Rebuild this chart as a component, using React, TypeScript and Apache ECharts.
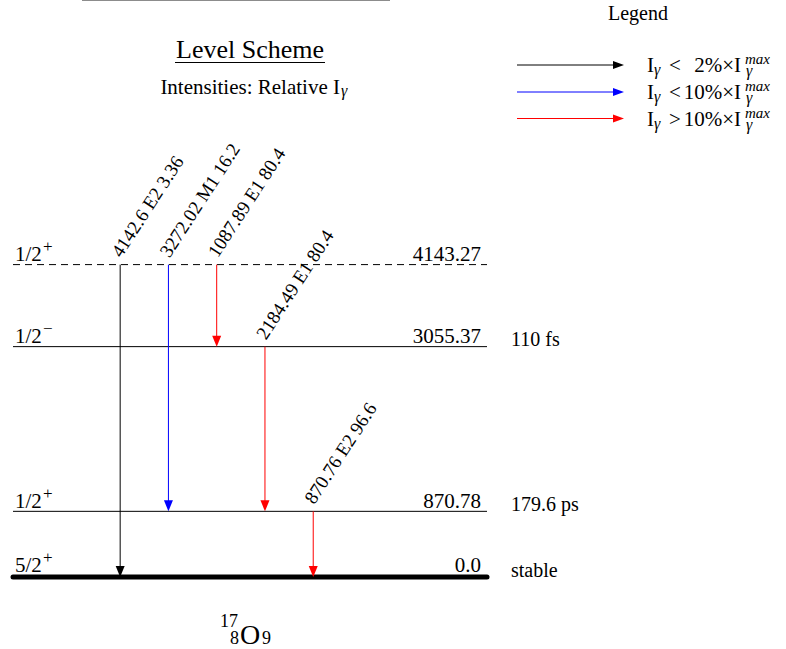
import React, { useEffect, useRef } from 'react';
import * as echarts from 'echarts';

// ---- Level data ----
const levelEnergies = [4143.27, 3055.37, 870.78, 0.0];
const levelLabels = ['4143.27', '3055.37', '870.78', '0.0'];
const levelSpins = ['1/2', '1/2', '1/2', '5/2'];
const levelParities = ['+', '\u2212', '+', '+'];
const levelHalfLives = ['', '110 fs', '179.6 ps', 'stable'];
const levelDashed = [true, false, false, false];

// ---- Gamma transitions ----
const gammaEnergies = ['4142.6', '3272.02', '1087.89', '2184.49', '870.76'];
const gammaMultipolarities = ['E2', 'M1', 'E1', 'E1', 'E2'];
const gammaIntensities = ['3.36', '16.2', '80.4', '80.4', '96.6'];
const gammaFrom = [4143.27, 4143.27, 4143.27, 3055.37, 870.78];
const gammaTo = [0.0, 870.78, 3055.37, 870.78, 0.0];
const gammaClass = [0, 1, 2, 2, 2];

// ---- Legend ----
const classColors = ['#000000', '#0000ff', '#ff0000'];
const legendRelations = ['<', '<', '>'];
const legendPercents = ['2%\u00d7I', '10%\u00d7I', '10%\u00d7I'];

const FONT = '"Liberation Serif", "Times New Roman", serif';
const X_MIN = -2.22;
const X_MAX = 7.6;
const ROT = (57 * Math.PI) / 180;

// text helper: place baseline at y
function txt(text: string, x: number, baseline: number, size: number, align: string = 'left', extra: any = {}) {
  return {
    type: 'text',
    x,
    y: baseline - 0.34 * size,
    silent: true,
    style: {
      text,
      fontSize: size,
      fontFamily: FONT,
      fill: '#000',
      align,
      verticalAlign: 'middle',
      ...extra,
    },
  };
}

export default function App() {
  const ref = useRef<HTMLDivElement>(null);

  useEffect(() => {
    if (!ref.current) return;
    const chart = echarts.init(ref.current, null, { renderer: 'svg' });

    const levelData = levelEnergies.map((e, i) => [0, e, i]);
    const gammaData = gammaFrom.map((f, i) => [i, f, gammaTo[i], i]);

    const graphics: any[] = [];
    // top gray rule
    graphics.push({ type: 'rect', silent: true, shape: { x: 82, y: 0, width: 308, height: 1 }, style: { fill: '#8c8c8c' } });
    // title
    graphics.push(txt('Level Scheme', 250, 58, 26, 'center'));
    graphics.push({ type: 'line', silent: true, shape: { x1: 175, y1: 62.5, x2: 325, y2: 62.5 }, style: { stroke: '#000', lineWidth: 1 } });
    graphics.push(txt('Intensities: Relative I', 340, 94, 21, 'right'));
    graphics.push(txt('\u03b3', 341, 96, 16, 'left', { fontStyle: 'italic' }));
    // legend
    graphics.push(txt('Legend', 638, 20, 20, 'center'));
    const rowBase = [72, 99, 126];
    const arrowY = [65, 92, 118.5];
    for (let k = 0; k < 3; k++) {
      const c = classColors[k];
      const y = arrowY[k];
      graphics.push({ type: 'line', silent: true, shape: { x1: 517, y1: y, x2: 614, y2: y }, style: { stroke: c, lineWidth: 1 } });
      graphics.push({ type: 'polygon', silent: true, shape: { points: [[613, y - 4], [624, y], [613, y + 4]] }, style: { fill: c } });
      const b = rowBase[k];
      graphics.push(txt('I', 647, b, 21));
      graphics.push(txt('\u03b3', 654, b + 3, 16, 'left', { fontStyle: 'italic' }));
      graphics.push(txt(legendRelations[k], 669, b, 21));
      graphics.push(txt(legendPercents[k], 741, b, 21, 'right'));
      // stacked superscript "max" and subscript gamma in one text block
      graphics.push({
        type: 'text',
        x: 745,
        y: b - 7.5,
        silent: true,
        style: {
          text: '{m|max}\n{g|\u03b3}',
          fontFamily: FONT,
          fill: '#000',
          align: 'left',
          verticalAlign: 'middle',
          rich: {
            m: { fontSize: 15, fontStyle: 'italic', fontFamily: FONT, lineHeight: 12 },
            g: { fontSize: 16, fontStyle: 'italic', fontFamily: FONT, lineHeight: 12, padding: [0, 0, 0, 1] },
          },
        },
      });
    }
    // nucleus label
    graphics.push(txt('O', 240, 644, 28));
    graphics.push(txt('17', 238, 627, 18, 'right'));
    graphics.push(txt('8', 239, 644, 18, 'right'));
    graphics.push(txt('9', 262, 644, 18));

    const option: any = {
      animation: false,
      grid: { left: 13, top: 200, width: 474, height: 377 },
      xAxis: { type: 'value', min: X_MIN, max: X_MAX, show: false },
      yAxis: { type: 'value', min: 0, max: 5000, show: false },
      series: [
        {
          type: 'custom',
          clip: false,
          silent: true,
          data: levelData,
          encode: { x: 0, y: 1 },
          renderItem: (params: any, api: any) => {
            const i = api.value(2);
            const e = api.value(1);
            const p1 = api.coord([X_MIN, e]);
            const p2 = api.coord([X_MAX, e]);
            const y = p1[1];
            const ground = i === levelEnergies.length - 1;
            const lw = ground ? 5 : 1;
            const off = ground ? 5 : 3;
            const children: any[] = [
              {
                type: 'line',
                shape: { x1: p1[0], y1: y, x2: p2[0], y2: y },
                style: { stroke: '#000', lineWidth: lw, lineDash: levelDashed[i] ? [7, 5] : null, lineCap: ground ? 'round' : 'butt' },
              },
              txt(levelSpins[i], p1[0] + 2, y - off, 21),
              txt(levelParities[i], p1[0] + 30, y - off - 9, 17),
              txt(levelLabels[i], p2[0] - 6, y - off, 21, 'right'),
            ];
            if (levelHalfLives[i]) children.push(txt(levelHalfLives[i], p2[0] + 24, y - (ground ? 0 : 1), 20));
            return { type: 'group', children };
          },
        },
        {
          type: 'custom',
          clip: false,
          silent: true,
          data: gammaData,
          encode: { x: 0, y: 1 },
          renderItem: (params: any, api: any) => {
            const i = api.value(3);
            const top = api.coord([api.value(0), api.value(1)]);
            const bot = api.coord([api.value(0), api.value(2)]);
            const x = top[0];
            const c = classColors[gammaClass[i]];
            const label = gammaEnergies[i] + ' ' + gammaMultipolarities[i] + ' ' + gammaIntensities[i];
            const f = 19;
            const ax = x + 1 - 0.34 * f * Math.sin(ROT);
            const ay = top[1] - 6 - 0.34 * f * Math.cos(ROT);
            return {
              type: 'group',
              children: [
                { type: 'line', shape: { x1: x, y1: top[1], x2: x, y2: bot[1] - 10 }, style: { stroke: c, lineWidth: 1 } },
                { type: 'polygon', shape: { points: [[x - 4.5, bot[1] - 11], [x + 4.5, bot[1] - 11], [x, bot[1]]] }, style: { fill: c } },
                {
                  type: 'text',
                  x: ax,
                  y: ay,
                  rotation: ROT,
                  style: { text: label, fontSize: f, fontFamily: FONT, fill: '#000', align: 'left', verticalAlign: 'middle' },
                },
              ],
            };
          },
        },
      ],
      graphic: graphics,
    };

    chart.setOption(option);
    return () => chart.dispose();
  }, []);

  return <div ref={ref} style={{ position: 'absolute', left: 0, top: 0, width: 786, height: 649, background: '#fff' }} />;
}
